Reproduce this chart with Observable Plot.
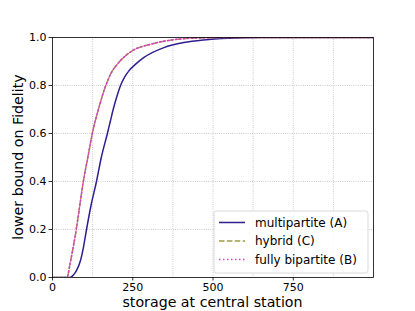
<!DOCTYPE html>
<html>
<head>
<meta charset="utf-8">
<script src="https://cdn.jsdelivr.net/npm/d3@7"></script>
<script src="https://cdn.jsdelivr.net/npm/@observablehq/plot@0.6"></script>
<style>
  html, body { margin: 0; padding: 0; background: #fff; }
  #chart { position: relative; width: 415px; height: 311px; }
</style>
</head>
<body>
<div id="chart"></div>
<script>
// ---- data ----
const seriesNames = ["multipartite (A)", "hybrid (C)", "fully bipartite (B)"];

const multiX = [0, 55, 65, 75, 87, 97, 106, 120, 137, 152, 171, 180, 190, 200, 212, 225, 238, 260, 285, 347, 409, 471, 550, 650, 1000];
const multiY = [0, 0, 0.01, 0.03, 0.07, 0.13, 0.2, 0.3, 0.4, 0.5, 0.6, 0.65, 0.705, 0.752, 0.8, 0.836, 0.861, 0.89, 0.917, 0.958, 0.979, 0.99, 0.997, 1, 1];

const hybridX = [0, 45, 55, 65, 74, 85, 96, 110, 124, 145, 166, 182, 202, 225, 249, 306, 368, 450, 550, 1000];
const hybridY = [0, 0, 0.06, 0.13, 0.2, 0.3, 0.4, 0.5, 0.6, 0.71, 0.8, 0.85, 0.889, 0.921, 0.945, 0.972, 0.989, 0.998, 1, 1];

const bipartiteX = [0, 45, 55, 65, 74, 85, 96, 110, 124, 145, 166, 182, 202, 225, 249, 306, 368, 450, 550, 1000];
const bipartiteY = [0, 0, 0.06, 0.13, 0.2, 0.3, 0.4, 0.5, 0.6, 0.71, 0.8, 0.85, 0.889, 0.921, 0.945, 0.972, 0.989, 0.998, 1, 1];

const xTicks = [0, 250, 500, 750];
const xGrid = [125, 250, 375, 500, 625, 750, 875];
const yTicks = [0, 0.2, 0.4, 0.6, 0.8, 1.0];
const yGrid = [0.2, 0.4, 0.6, 0.8];

const xLabel = "storage at central station";
const yLabel = "lower bound on Fidelity";

// ---- styles ----
const colors = ["#2e1f8f", "#a39a45", "#d63fc9"];
const dashes = [null, "5.5,2.4", "1.5,2.5"];
const font = "DejaVu Sans, sans-serif";

const toRows = (xs, ys) => xs.map((x, i) => ({x, y: ys[i]}));
const rows = [toRows(multiX, multiY), toRows(hybridX, hybridY), toRows(bipartiteX, bipartiteY)];

const W = 415, H = 311;
const mL = 52, mR = 42, mT = 37, mB = 34;

const plot = Plot.plot({
  width: W,
  height: H,
  marginLeft: mL,
  marginRight: mR,
  marginTop: mT,
  marginBottom: mB,
  style: {fontFamily: font, background: "white", overflow: "visible"},
  x: {domain: [0, 1000]},
  y: {domain: [0, 1]},
  marks: [
    Plot.gridX(xGrid, {stroke: "#b0b0b0", strokeOpacity: 1, strokeWidth: 0.8, strokeDasharray: "0.8,1.4"}),
    Plot.gridY(yGrid, {stroke: "#b0b0b0", strokeOpacity: 1, strokeWidth: 0.8, strokeDasharray: "0.8,1.4"}),
    ...rows.map((r, i) => Plot.line(r, {x: "x", y: "y", stroke: colors[i], strokeWidth: 1.5, strokeDasharray: dashes[i], curve: "monotone-x", clip: true})),
    Plot.frame({stroke: "black", strokeWidth: 0.8}),
    Plot.axisX(xTicks, {tickSize: 3.5, tickPadding: 2.5, fontSize: 11, label: null, stroke: "black", strokeWidth: 0.8, fill: "black"}),
    Plot.axisY(yTicks, {tickSize: 3.5, tickPadding: 2.5, fontSize: 11, label: null, tickFormat: d3.format(".1f"), stroke: "black", strokeWidth: 0.8, fill: "black"})
  ]
});

document.getElementById("chart").appendChild(plot);

// axis titles
const svg = d3.select(plot);
const plotLeft = mL, plotRight = W - mR, plotTop = mT, plotBottom = H - mB;
svg.append("text")
  .attr("x", (plotLeft + plotRight) / 2)
  .attr("y", 307)
  .attr("text-anchor", "middle")
  .style("font-family", font)
  .style("font-size", "14.2px")
  .attr("fill", "black")
  .text(xLabel);
svg.append("text")
  .attr("transform", `translate(23,${(plotTop + plotBottom) / 2}) rotate(-90)`)
  .attr("text-anchor", "middle")
  .style("font-family", font)
  .style("font-size", "14.2px")
  .attr("fill", "black")
  .text(yLabel);

// legend (inside lower right of the axes)
const lg = svg.append("g");
const bx = 214, by = 211, bw = 154, bh = 62;
lg.append("rect")
  .attr("x", bx).attr("y", by).attr("width", bw).attr("height", bh)
  .attr("rx", 2.5).attr("ry", 2.5)
  .attr("fill", "white").attr("fill-opacity", 0.85)
  .attr("stroke", "#d0d0d0").attr("stroke-width", 0.8);
const rowY = [222.5, 241, 259.5];
seriesNames.forEach((name, i) => {
  lg.append("line")
    .attr("x1", bx + 5).attr("x2", bx + 31)
    .attr("y1", rowY[i]).attr("y2", rowY[i])
    .attr("stroke", colors[i]).attr("stroke-width", 1.5)
    .attr("stroke-dasharray", dashes[i]);
  lg.append("text")
    .attr("x", bx + 41).attr("y", rowY[i])
    .attr("dy", "0.35em")
    .attr("text-anchor", "start")
    .style("font-family", font)
    .style("font-size", "12px")
    .attr("fill", "black")
    .text(name);
});
</script>
</body>
</html>
